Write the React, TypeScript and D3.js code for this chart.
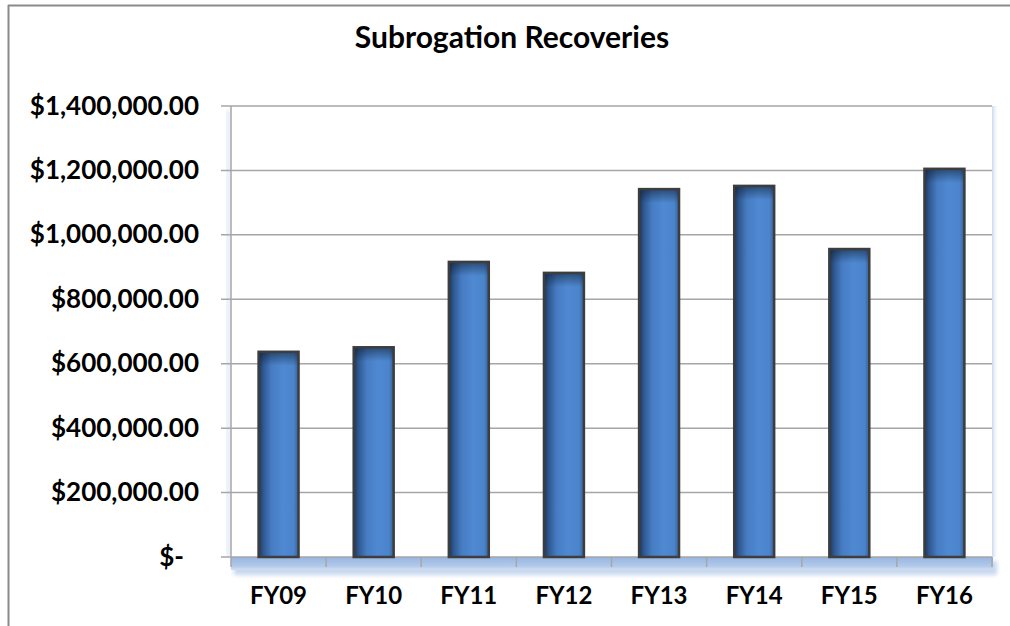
import React from 'react';
import * as d3 from 'd3';

const categories = ['FY09', 'FY10', 'FY11', 'FY12', 'FY13', 'FY14', 'FY15', 'FY16'];
const recoveries = [637000, 651000, 916000, 882000, 1142000, 1152000, 956000, 1205000];
const yTicks = [0, 200000, 400000, 600000, 800000, 1000000, 1200000, 1400000];
const title = 'Subrogation Recoveries';

const W = 1010;
const H = 626;
const margin = { top: 106, right: 18, bottom: 69, left: 231 };
const FONT = 'Lato, "Open Sans", sans-serif';

const fmt = d3.format('$,.2f');
const tickLabel = (v: number) => (v === 0 ? '$-' : fmt(v));

export default function App() {
  const x = d3
    .scaleBand<string>()
    .domain(categories)
    .range([margin.left, W - margin.right])
    .paddingInner(0.58)
    .paddingOuter(0.29);

  const y = d3
    .scaleLinear()
    .domain([0, 1400000])
    .range([H - margin.bottom, margin.top]);

  const x0 = margin.left;
  const x1 = W - margin.right;
  const y0 = y(0);
  const step = x.step();

  return (
    <div style={{ position: 'absolute', left: 0, top: 0 }}>
      <svg width={W} height={H} style={{ display: 'block', background: '#fff' }}>
        <defs>
          <linearGradient id="barFill" x1="0" x2="1" y1="0" y2="0">
            <stop offset="0%" stopColor="#1e3656" />
            <stop offset="12%" stopColor="#2f5890" />
            <stop offset="32%" stopColor="#467cc2" />
            <stop offset="60%" stopColor="#4f89d2" />
            <stop offset="88%" stopColor="#4b84cb" />
            <stop offset="100%" stopColor="#34609a" />
          </linearGradient>
          <linearGradient id="barTop" x1="0" x2="0" y1="0" y2="1">
            <stop offset="0%" stopColor="#0d1a2b" stopOpacity="0.55" />
            <stop offset="100%" stopColor="#0d1a2b" stopOpacity="0" />
          </linearGradient>
          <linearGradient id="floor" x1="0" x2="0" y1="0" y2="1">
            <stop offset="0%" stopColor="#96b6e1" />
            <stop offset="70%" stopColor="#b2c9e9" />
            <stop offset="100%" stopColor="#d3e0f2" />
          </linearGradient>
          <linearGradient id="wall" x1="0" x2="1" y1="0" y2="0">
            <stop offset="0%" stopColor="#c9d9ee" />
            <stop offset="100%" stopColor="#ffffff" stopOpacity="0" />
          </linearGradient>
          <filter id="soft" x="-5%" y="-100%" width="110%" height="300%">
            <feGaussianBlur stdDeviation="2" />
          </filter>
        </defs>

        {/* outer frame (only top and left visible) */}
        <line x1={8.5} x2={8.5} y1={5} y2={H} stroke="#8a8a8a" strokeWidth={2} />
        <line x1={8} x2={W} y1={5.5} y2={5.5} stroke="#8a8a8a" strokeWidth={2} />

        <text
          x={512}
          y={48}
          textAnchor="middle"
          fontFamily={FONT}
          fontWeight="bold"
          fontSize={30}
          fill="#000"
        >
          {title}
        </text>

        {/* plot area shading */}
        <rect x={x1} y={margin.top} width={7} height={y0 - margin.top} fill="url(#wall)" />
        <rect x={x0 - 4} y={margin.top + 4} width={3} height={y0 - margin.top - 4} fill="#d6e2f2" filter="url(#soft)" />
        <rect x={x0 + 3} y={y0 + 4} width={x1 - x0 + 2} height={14} fill="#c6d7ee" filter="url(#soft)" />
        <rect x={x0} y={y0} width={x1 - x0 + 1} height={13} fill="url(#floor)" />

        {/* gridlines + y ticks */}
        {yTicks.map((t) => (
          <g key={t}>
            <line x1={x0 - 10} x2={x1} y1={y(t)} y2={y(t)} stroke="#a6a6a6" strokeWidth={1.5} />
            <text
              x={t === 0 ? 184 : 199}
              y={y(t) + 8.5}
              textAnchor="end"
              fontFamily={FONT}
              fontWeight="bold"
              fontSize={26}
              fill="#000"
            >
              {tickLabel(t)}
            </text>
          </g>
        ))}
        <line x1={x0} x2={x0} y1={margin.top} y2={y0 + 10} stroke="#a6a6a6" strokeWidth={1.5} />

        {/* x ticks at band boundaries */}
        {categories.map((c, i) => (
          <line
            key={c}
            x1={x0 + step * (i + 1)}
            x2={x0 + step * (i + 1)}
            y1={y0}
            y2={y0 + 10}
            stroke="#a6a6a6"
            strokeWidth={1.5}
          />
        ))}

        {/* bars */}
        {categories.map((c, i) => {
          const bx = x(c) as number;
          const by = y(recoveries[i]);
          const bh = y0 - by;
          return (
            <g key={c}>
              <rect x={bx} y={by} width={x.bandwidth()} height={bh} fill="url(#barFill)" />
              <rect x={bx} y={by} width={x.bandwidth()} height={14} fill="url(#barTop)" />
              <rect
                x={bx}
                y={by}
                width={x.bandwidth()}
                height={bh}
                fill="none"
                stroke="#3d3d3d"
                strokeWidth={2.5}
              />
            </g>
          );
        })}

        {/* x labels */}
        {categories.map((c) => (
          <text
            key={c}
            x={(x(c) as number) + x.bandwidth() / 2}
            y={604}
            textAnchor="middle"
            fontFamily={FONT}
            fontWeight="bold"
            fontSize={24}
            fill="#000"
          >
            {c}
          </text>
        ))}
      </svg>
    </div>
  );
}
